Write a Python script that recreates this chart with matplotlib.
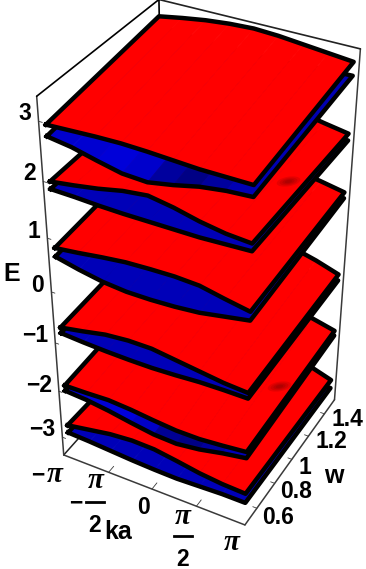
import numpy as np
import matplotlib
matplotlib.use("Agg")
import matplotlib.pyplot as plt
from matplotlib.path import Path
from matplotlib.transforms import Affine2D

pi = np.pi
FONT = "Liberation Sans"

# ---------- data ----------
ka = np.array([-1, -.75, -.5, -.25, 0, .25, .5, .75, 1]) * pi
w_ends = [0.5, 1.5]

red1_front = [2.91, 2.93, 2.95, 2.96, 2.95, 2.93, 2.91, 2.91, 2.91]
red1_back = [3.17, 3.24, 3.30, 3.34, 3.36, 3.34, 3.30, 3.26, 3.22]
blue1_front = [2.72, 2.66, 2.56, 2.47, 2.45, 2.53, 2.63, 2.69, 2.72]
blue1_back = [2.99, 2.97, 2.94, 2.92, 2.92, 2.93, 2.95, 2.98, 2.99]

red2_front = [1.96, 2.02, 2.09, 2.18, 2.23, 2.16, 2.06, 1.99, 1.96]
red2_back = [2.00, 2.07, 2.14, 2.22, 2.27, 2.22, 2.15, 2.07, 2.00]
blue2_front = [1.83, 1.82, 1.80, 1.79, 1.79, 1.79, 1.79, 1.81, 1.83]
blue2_back = [1.88, 1.87, 1.86, 1.85, 1.85, 1.85, 1.86, 1.87, 1.88]

red3_front = [.78, .83, .89, .94, .96, .97, .95, .86, .78]
red3_back = [.94, .99, 1.04, 1.09, 1.12, 1.12, 1.09, 1.02, .94]
blue3_front = [.62, .52, .44, .40, .40, .42, .46, .54, .62]
blue3_back = [.83, .75, .69, .65, .64, .65, .69, .76, .83]

red4_front = [-.74, -.66, -.57, -.53, -.53, -.59, -.65, -.71, -.74]
red4_back = [-.65, -.58, -.51, -.43, -.38, -.36, -.40, -.51, -.65]
blue4_front = [-.85, -.88, -.90, -.91, -.91, -.89, -.86, -.85, -.85]
blue4_back = [-.77, -.79, -.81, -.82, -.82, -.81, -.79, -.78, -.77]

red5_front = [-1.93, -1.92, -1.90, -1.93, -1.98, -2.02, -2.02, -1.98, -1.93]
red5_back = [-1.82, -1.76, -1.71, -1.65, -1.61, -1.60, -1.63, -1.71, -1.82]
blue5_front = [-2.04, -2.07, -2.13, -2.21, -2.28, -2.30, -2.24, -2.14, -2.06]
blue5_back = [-1.92, -1.93, -1.95, -1.99, -2.03, -2.03, -2.00, -1.95, -1.92]

red6_front = [-2.79, -2.71, -2.63, -2.59, -2.60, -2.67, -2.75, -2.80, -2.82]
red6_back = [-2.90, -2.83, -2.75, -2.68, -2.63, -2.61, -2.65, -2.75, -2.90]
blue6_front = [-2.95, -2.97, -3.00, -3.03, -3.05, -3.06, -3.04, -3.02, -3.02]
blue6_back = [-3.08, -3.09, -3.11, -3.12, -3.13, -3.12, -3.11, -3.09, -3.08]

blue_shade_1 = [.80, .82, .85, .80, .62, .52, .62, .70]
blue_shade_5 = [.80, .84, .86, .78, .58, .52, .62, .72]
blue_shade_other = [.72] * 8

e_ticks = [-3, -2, -1, 0, 1, 2, 3]
k_ticks = [-pi / 2, 0, pi / 2]
w_ticks = [0.6, 0.8, 1.0, 1.2, 1.4]
e0, e1 = -3.4, 3.4
k0, k1 = -3.24, 3.24
w0, w1 = .47, 1.53

# ---------- camera: calibrated on the axes frame of the reference ----------
calibration = [
    ((k0, w0, e0), (63, 455)), ((k1, w0, e0), (246, 527)), ((k1, w1, e0), (336, 400)),
    ((k0, w0, e1), (36, 96)), ((k0, w1, e1), (158, 0)), ((k1, w1, e1), (361, 49)),
    ((k0, w0, 3), (39, 122)), ((k0, w0, 2), (43.5, 180)), ((k0, w0, 1), (48, 238)),
    ((k0, w0, 0), (51.5, 292)), ((k0, w0, -1), (55, 343)), ((k0, w0, -2), (59, 392)),
    ((k0, w0, -3), (61.5, 438)),
    ((-pi / 2, w0, e0), (110, 472)), ((0, w0, e0), (153, 488)), ((pi / 2, w0, e0), (198, 505)),
    ((k1, .6, e0), (254, 508)), ((k1, .8, e0), (273, 484)), ((k1, 1., e0), (291, 459)),
    ((k1, 1.2, e0), (309, 436)), ((k1, 1.4, e0), (324, 413)),
]


def camera():
    rows = []
    for (k, w, e), (px, py) in calibration:
        v = [k / pi, (w - 1) * 2, e / 3.4, 1]
        u, t = px / 300, py / 300
        rows.append(v + [0, 0, 0, 0] + [-u * c for c in v])
        rows.append([0, 0, 0, 0] + v + [-t * c for c in v])
    P = np.linalg.svd(np.array(rows))[2][-1].reshape(3, 4)
    scale_in = np.diag([1 / pi, 2, 1 / 3.4, 1.0])
    scale_in[1, 3] = -2
    P = np.diag([300, 300, 1.0]) @ P @ scale_in
    if P[2] @ np.array([0, 1, 0, 1]) < 0:
        P = -P
    P = P / (P[2] @ np.array([0, 1, 0, 1]))
    depth = P[2] - np.array([0, 0, 0, 0.1])
    return np.vstack([P[0], P[1], depth, P[2]])


W_PX, H_PX = 366, 569
fig = plt.figure(figsize=(W_PX / 100, H_PX / 100), dpi=100, facecolor="white")
left_px = (W_PX - H_PX) / 2
ax = fig.add_axes([left_px / W_PX, 0, H_PX / W_PX, 1], projection="3d", computed_zorder=False)
ax.set_axis_off()
ax.patch.set_visible(False)
ax.set_proj_type("ortho")
M = camera()
ax.get_proj = lambda: M

K, W = np.meshgrid(ka, w_ends)
edge = "#3a3a3a"


def frame(a, b, color=edge, lw=1.1, z=1):
    ax.plot(*np.array([a, b]).T, color=color, lw=lw, zorder=z, solid_capstyle="round")


frame((k0, w0, e0), (k1, w0, e0))
frame((k1, w0, e0), (k1, w1, e0))
frame((k0, w0, e0), (k0, w1, e0), color="#222222")
frame((k0, w0, e0), (k0, w0, e1))
frame((k1, w1, e0), (k1, w1, e1))
frame((k0, w0, e1), (k0, w1, e1), color="black", lw=1.2)
frame((k0, w1, e1), (k1, w1, e1), color="#222222", lw=1.2)
frame((k0, w1, e1), (k0, w1, e1 - .3), color="black", lw=1.2)
for v in e_ticks:
    frame((k0, w0, v), (k0 + .12, w0, v), lw=.6)
for v in k_ticks:
    frame((v, w0, e0), (v, w0 + .05, e0), lw=.6)
for v in w_ticks:
    frame((k1, v, e0), (k1 - .14, v, e0), lw=.6)


def sheet(front, back, colors, z):
    Z = np.array([front, back])
    ax.plot_surface(K, W, Z, facecolors=colors, shade=False, rstride=1, cstride=1,
                    linewidth=.5, antialiased=True, zorder=z)


def outline(front, back, z):
    ks = np.r_[ka, ka[::-1], ka[0]]
    ws = np.r_[np.full(9, w_ends[0]), np.full(9, w_ends[1]), w_ends[0]]
    es = np.r_[front, back[::-1], front[0]]
    ax.plot(ks, ws, es, color="black", lw=3.2, zorder=z, solid_joinstyle="round")


def blue_colors(shade):
    cols = np.zeros((2, 9, 4))
    cols[..., 3] = 1
    cols[:, :8, 2] = shade
    cols[:, 8, 2] = shade[-1]
    return cols


def red_colors():
    cols = np.zeros((2, 9, 4))
    cols[..., 0] = 1
    cols[..., 3] = 1
    return cols


spot_marker = Path.unit_circle().transformed(Affine2D().scale(1, .4).rotate_deg(10))
stack = [
    (blue6_front, blue6_back, blue_shade_other, red6_front, red6_back, None),
    (blue5_front, blue5_back, blue_shade_5, red5_front, red5_back, (2.75, .98, -1.85)),
    (blue4_front, blue4_back, blue_shade_other, red4_front, red4_back, None),
    (blue3_front, blue3_back, blue_shade_other, red3_front, red3_back, None),
    (blue2_front, blue2_back, blue_shade_other, red2_front, red2_back, (2.75, .98, 2.03)),
    (blue1_front, blue1_back, blue_shade_1, red1_front, red1_back, None),
]
for i, (bf, bb, shade, rf, rb, spot) in enumerate(stack):
    base = 10 + 10 * i
    sheet(bf, bb, blue_colors(shade), base)
    outline(bf, bb, base + 1)
    sheet(rf, rb, red_colors(), base + 2)
    if spot is not None:
        for size in (300, 170, 80, 30):
            ax.scatter([spot[0]], [spot[1]], [spot[2]], s=size, color="#400000", alpha=.12,
                       marker=spot_marker, linewidths=0, depthshade=False, zorder=base + 3)
    outline(rf, rb, base + 4)

ax.viewLim.intervalx = (left_px, left_px + H_PX)
ax.viewLim.intervaly = (H_PX, 0)


def label(x, y, s, size=16.5, family=FONT, style="normal"):
    fig.text(x / W_PX, 1 - y / H_PX, s, ha="center", va="center", fontsize=size,
             fontweight="bold", family=family, style=style, color="black")


def pi_label(x, y):
    label(x, y, "\u03c0", size=21, family="Liberation Serif", style="italic")


for (x, y), s in zip([(25, 113), (30, 174), (34, 231), (38, 285), (35, 336), (39, 385), (42, 430)],
                     ["3", "2", "1", "0", "\u22121", "\u22122", "\u22123"]):
    label(x, y, s)
label(12, 274, "E", 18)
label(38, 475, "\u2212")
pi_label(55, 474)
label(76, 503, "\u2212")
pi_label(96, 481)
label(95, 525, "2")
label(118, 532, "ka", 18)
label(143, 508, "0")
pi_label(183, 516)
label(183, 559, "2")
pi_label(232, 543)
for (x, y), v in zip([(278, 517), (296, 491), (305, 468), (331, 441), (347, 420)], w_ticks):
    label(x, y, f"{v:g}")
label(334, 476, "w", 18)
for x0, x1, y in [(86, 104, 502), (174, 192, 536)]:
    fig.add_artist(plt.Line2D([x0 / W_PX, x1 / W_PX], [1 - y / H_PX] * 2, color="black", lw=2))

fig.savefig("out.png", dpi=100)
